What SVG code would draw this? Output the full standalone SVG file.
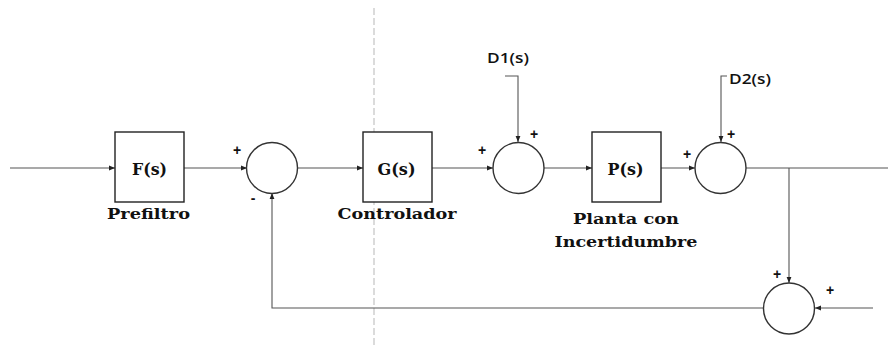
<svg xmlns="http://www.w3.org/2000/svg" width="888" height="348" viewBox="0 0 888 348">
<style>
.box{fill:#fff;stroke:#222;stroke-width:1.4}
.sum{fill:#fff;stroke:#333;stroke-width:1.4}
.ln{fill:none;stroke:#555;stroke-width:1.1}
.blk{font-family:"DejaVu Serif","Liberation Serif",serif;font-weight:bold;font-size:17px;fill:#111;text-anchor:middle}
.lbl{font-family:"DejaVu Serif","Liberation Serif",serif;font-weight:bold;font-size:14px;fill:#111;text-anchor:middle}
.sg{font-family:"Liberation Sans",Arial,sans-serif;font-weight:bold;font-size:14px;fill:#111;text-anchor:middle}
.dist{font-family:"Open Sans","Liberation Sans",sans-serif;font-weight:600;font-size:14px;fill:#111}
</style>
<defs>
<marker id="ah" viewBox="0 0 6 6" refX="6" refY="3" markerWidth="6" markerHeight="6" markerUnits="userSpaceOnUse" orient="auto">
<path d="M0,0.6 L6,3 L0,5.4 Z" fill="#222"/>
</marker>
</defs>
<line x1="374" y1="8" x2="374" y2="348" stroke="#c8c8c8" stroke-width="1.3" stroke-dasharray="7 3"/>
<g id="connectors">
<line class="ln" x1="10" y1="168" x2="115" y2="168" marker-end="url(#ah)"/>
<line class="ln" x1="184" y1="168" x2="247" y2="168" marker-end="url(#ah)"/>
<line class="ln" x1="298" y1="168" x2="363" y2="168" marker-end="url(#ah)"/>
<line class="ln" x1="432" y1="168" x2="493" y2="168" marker-end="url(#ah)"/>
<line class="ln" x1="544" y1="168" x2="592" y2="168" marker-end="url(#ah)"/>
<line class="ln" x1="661" y1="168" x2="695" y2="168" marker-end="url(#ah)"/>
<line class="ln" x1="746" y1="168" x2="888" y2="168"/>
<line class="ln" x1="789" y1="168" x2="789" y2="283" marker-end="url(#ah)"/>
<line class="ln" x1="873" y1="308" x2="815" y2="308" marker-end="url(#ah)"/>
<polyline class="ln" points="763,308 272,308 272,193" marker-end="url(#ah)"/>
<polyline class="ln" points="505,76 518,76 518,142" marker-end="url(#ah)"/>
<polyline class="ln" points="727,76 721,76 721,142" marker-end="url(#ah)"/>
</g>
<g id="F">
<rect class="box" x="115" y="132" width="69" height="70"/>
<text class="blk" x="149.5" y="175" textLength="35" lengthAdjust="spacingAndGlyphs">F(s)</text>
<text class="lbl" x="148.5" y="219" textLength="83" lengthAdjust="spacingAndGlyphs">Prefiltro</text>
</g>
<g id="sum1">
<circle class="sum" cx="272" cy="168" r="25.5"/>
<text class="sg" x="237" y="155">+</text>
<text class="sg" x="253" y="203">-</text>
</g>
<g id="G">
<rect class="box" x="363" y="132" width="69" height="70"/>
<text class="blk" x="396.5" y="175" textLength="38" lengthAdjust="spacingAndGlyphs">G(s)</text>
<text class="lbl" x="397" y="219" textLength="119" lengthAdjust="spacingAndGlyphs">Controlador</text>
</g>
<g id="sum2">
<circle class="sum" cx="518.5" cy="168" r="25.5"/>
<text class="sg" x="482" y="155">+</text>
<text class="sg" x="534" y="139">+</text>
</g>
<g id="D1">
<text class="dist" x="487" y="63" textLength="42" lengthAdjust="spacingAndGlyphs">D1(s)</text>
</g>
<g id="P">
<rect class="box" x="592" y="132" width="69" height="70"/>
<text class="blk" x="625.5" y="175" textLength="36" lengthAdjust="spacingAndGlyphs">P(s)</text>
<text class="lbl" x="626" y="224" textLength="106" lengthAdjust="spacingAndGlyphs">Planta con</text>
<text class="lbl" x="626" y="247" textLength="143" lengthAdjust="spacingAndGlyphs">Incertidumbre</text>
</g>
<g id="sum3">
<circle class="sum" cx="720.5" cy="168" r="25.5"/>
<text class="sg" x="687" y="159">+</text>
<text class="sg" x="731" y="139">+</text>
</g>
<g id="D2">
<text class="dist" x="729" y="84" textLength="42" lengthAdjust="spacingAndGlyphs">D2(s)</text>
</g>
<g id="sum4">
<circle class="sum" cx="789" cy="308.5" r="25.5"/>
<text class="sg" x="777" y="279">+</text>
<text class="sg" x="830" y="295">+</text>
</g>
</svg>
